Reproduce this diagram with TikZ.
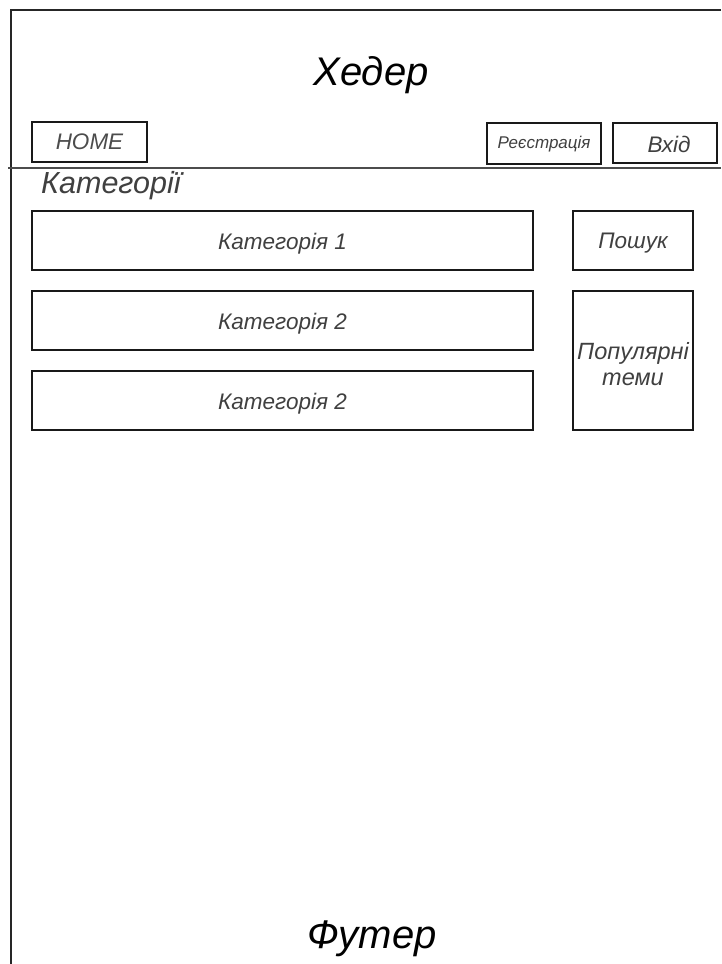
\documentclass[tikz,border=0pt]{standalone}
\usepackage{fontspec}
\setmainfont{Liberation Sans}
\begin{document}
\begin{tikzpicture}[x=1pt,y=-1pt,
  frameline/.style={draw=black!85, line width=1.3pt},
  boxstyle/.style={draw=black!90, line width=1.3pt, fill=white, inner sep=0pt},
  lbl/.style={text=black!75, font=\itshape\fontsize{22.5}{26}\selectfont},
  bigtxt/.style={text=black, font=\itshape\fontsize{40}{44}\selectfont, anchor=base}]
\useasboundingbox (0,0) rectangle (721,964);
\fill[white] (0,0) rectangle (721,964);
% outer frame
\coordinate (tl) at (11,10);
\coordinate (tr) at (721,10);
\coordinate (bl) at (11,964);
\coordinate (sl) at (8,168);
\coordinate (sr) at (721,168);
\draw[frameline] (tr) -- (tl) -- (bl);
\draw[frameline, draw=black!70] (sl) -- (sr);
% header
\node[bigtxt] (header) at (371,85) {Хедер};
\node[boxstyle, minimum width=115pt, minimum height=40pt] (home) at (89.5,142) {};
\node[lbl, text=black!70] at (home) {HOME};
\node[boxstyle, minimum width=114pt, minimum height=41pt] (reg) at (544,143.5) {};
\node[text=black!75, font=\itshape\fontsize{17}{19}\selectfont] at ([yshift=-1pt]reg.center) {Реєстрація};
\node[boxstyle, minimum width=104pt, minimum height=40pt] (login) at (665,143) {};
\node[lbl] at ([xshift=4pt,yshift=-1pt]login.center) {Вхід};
% categories
\node[text=black!75, font=\itshape\fontsize{30.5}{34}\selectfont, anchor=base west, inner sep=0pt] (cats) at (41,193) {Категорії};
\node[boxstyle, minimum width=501pt, minimum height=59pt] (c1) at (282.5,240.5) {};
\node[lbl] at ([yshift=-3pt]c1.center) {Категорія 1};
\node[boxstyle, minimum width=501pt, minimum height=59pt] (c2) at (282.5,320.5) {};
\node[lbl] at ([yshift=-3pt]c2.center) {Категорія 2};
\node[boxstyle, minimum width=501pt, minimum height=59pt] (c3) at (282.5,400.5) {};
\node[lbl] at ([yshift=-3pt]c3.center) {Категорія 2};
% side
\node[boxstyle, minimum width=120pt, minimum height=59pt] (search) at (633,240.5) {};
\node[lbl] at ([yshift=-3pt]search.center) {Пошук};
\node[boxstyle, minimum width=120pt, minimum height=139pt] (pop) at (633,360.5) {};
\node[lbl, align=center, inner sep=0pt, font=\itshape\fontsize{23.5}{26}\selectfont] at ([yshift=-4pt]pop.center) {Популярні\\теми};
% footer
\node[bigtxt] (footer) at (372,948) {Футер};
\end{tikzpicture}
\end{document}
